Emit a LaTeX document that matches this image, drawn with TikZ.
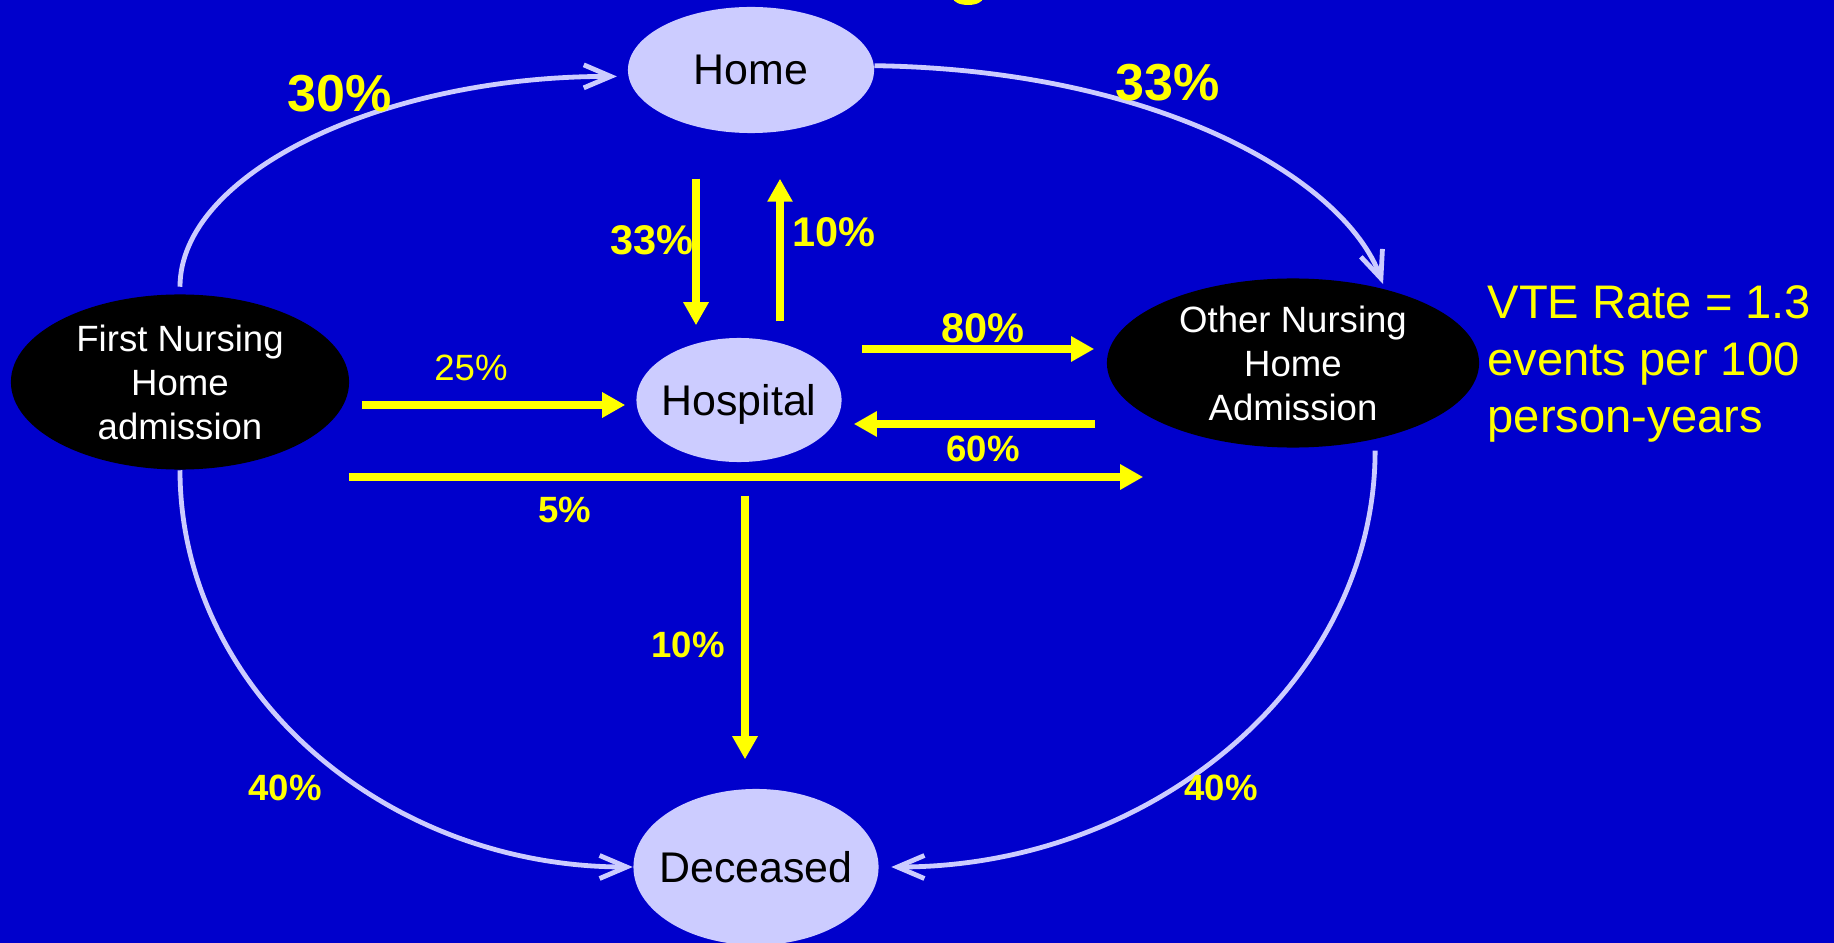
\documentclass[tikz,border=0pt]{standalone}
\usepackage{fontspec}
\setmainfont{Liberation Sans}
\usetikzlibrary{shapes.geometric,arrows.meta,calc}
\definecolor{bgblue}{HTML}{0000CC}
\definecolor{lavender}{HTML}{CCCCFF}
\definecolor{pctyellow}{HTML}{FFFF00}
\newcommand{\clrflow}{pctyellow}

\begin{document}
\begin{tikzpicture}[x=0.01cm, y=-0.01cm,
    state/.style={ellipse, fill=lavender, inner xsep=-0.15cm, inner ysep=0pt,
        text depth=0pt, font=\fontsize{12.2}{14}\selectfont},
    nursing/.style={ellipse, fill=black, text=white, inner sep=0pt, align=center,
        font=\fontsize{10.4}{12.5}\selectfont},
    flow/.style={draw=\clrflow, line width=0.08cm,
        -{Triangle[length=0.23cm, width=0.24cm]}},
    trans/.style={draw=lavender, line width=0.048cm,
        -{Straight Barb[length=0.27cm, width=0.23cm]}},
    pctbig/.style={text=\clrflow, anchor=base, inner sep=0pt,
        font=\fontsize{14.8}{18}\selectfont\bfseries},
    pctmid/.style={text=\clrflow, anchor=base, inner sep=0pt,
        font=\fontsize{11.8}{14}\selectfont\bfseries},
    pctsmall/.style={text=\clrflow, anchor=base, inner sep=0pt,
        font=\fontsize{10.4}{12}\selectfont\bfseries},
    pctplain/.style={text=\clrflow, anchor=base, inner sep=0pt,
        font=\fontsize{10.4}{12}\selectfont},
]
    \fill[bgblue] (0,0) rectangle (1834,943);
    \useasboundingbox (0,0) rectangle (1834,943);
    % foot of the title letter
    \fill[\clrflow] (968,-2) ellipse [x radius=0.15cm, y radius=0.07cm];

    %states
    \node[state, minimum width=2.46cm, minimum height=1.26cm] (home) at (751,70) {Home};
    \node[state, minimum width=2.05cm, minimum height=1.24cm] (hospital) at (739,400) {Hospital};
    \node[state, minimum width=2.45cm, minimum height=1.56cm] (deceased) at (756,867) {Deceased};
    \node[nursing, minimum width=3.38cm, minimum height=1.75cm] (first) at (180,382)
        {First Nursing\\Home\\admission};
    \node[nursing, minimum width=3.72cm, minimum height=1.69cm] (other) at (1293,363)
        {Other Nursing\\Home\\Admission};

    \node[text=\clrflow, align=left, anchor=north west, inner sep=0pt,
        font=\fontsize{13.4}{16.2}\selectfont] (vte) at (1487,285)
        {VTE Rate = 1.3\\events per 100\\person-years};

    %outer transitions
    \draw[trans, shorten <=0.07cm, shorten >=0.11cm]
        (first.north) .. controls (180,174) and (381,76) .. (home.183);
    \draw[trans, shorten >=0.05cm]
        (home.2) .. controls (1160,70) and (1345,180) .. (other.39);
    \draw[trans]
        (first.south) .. controls (180,689) and (383,867) .. (deceased.west);
    \draw[trans, shorten <=0.11cm, shorten >=0.12cm]
        (other.-43) .. controls (1375,680) and (1155,867) .. (deceased.east);

    %yellow flows
    \draw[flow] ($(home.south)+(-55,45)$) -- ($(hospital.north)+(-43,-12)$);
    \draw[flow] ($(hospital.north)+(41,-16)$) -- ($(home.south)+(29,45)$);
    \draw[flow] ($(first.east)+(12,23)$) -- ($(hospital.west)+(-10.5,5)$);
    \draw[flow] ($(hospital.east)+(19.5,-51)$) -- ($(other.west)+(-12,-14)$);
    \draw[flow] ($(other.west)+(-11,61)$) -- ($(hospital.east)+(11.5,24)$);
    \draw[flow] ($(first.east)+(-1,95)$) -- ($(other.west)+(37,114)$);
    \draw[flow] ($(hospital.south)+(6,33)$) -- ($(deceased.north)+(-11,-29)$);

    %percentages
    \foreach \n/\x/\y/\s/\t in {
        p30/340/112/pctbig/30, p33top/1168/101/pctbig/33,
        p33/652/255/pctmid/33, p10up/834/247/pctmid/10, p80/983/343/pctmid/80,
        p60/983/462/pctsmall/60, p5/565/522/pctsmall/5, p10down/688/657/pctsmall/10,
        p40left/285/800/pctsmall/40, p40right/1221/800/pctsmall/40,
        p25/471/380/pctplain/25}
    {
        \node[\s] (\n) at (\x,\y) {\t\%};
    }
\end{tikzpicture}
\end{document}
